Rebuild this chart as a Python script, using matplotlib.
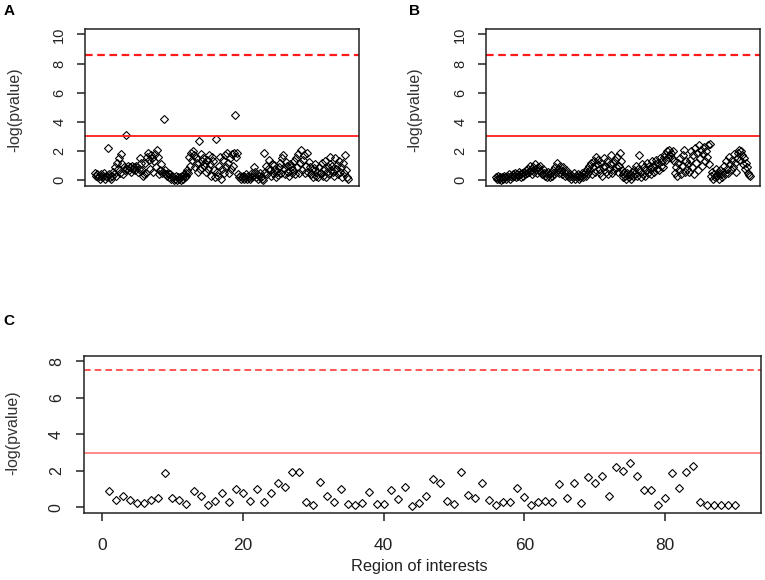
import matplotlib
matplotlib.use("Agg")
import matplotlib.pyplot as plt
import numpy as np

plt.rcParams['font.family'] = ['Liberation Sans', 'DejaVu Sans']
plt.rcParams['lines.scale_dashes'] = False

# ---------------- data ----------------
panel_labels = ["A", "B", "C"]
y_label = "-log(pvalue)"
x_label_c = "Region of interests"

yticks_ab = [0, 2, 4, 6, 8, 10]
yticks_c = [0, 2, 4, 6, 8]
xticks_c = [0, 20, 40, 60, 80]

thr_suggest = 3.0        # solid line
thr_ab = 8.55            # dashed line, panels A and B
thr_c = 7.5              # dashed line, panel C

values_a = [
    0.5, 0.3, 0.4, 0.2, 0.3, 0.1, 0.4, 0.2, 0.3, 0.5, 0.1, 0.3, 0.2, 2.2, 0.4, 0.2, 0.1,
    0.3, 0.6, 0.4, 0.9, 0.3, 1.2, 0.8, 1.5, 0.5, 1.8, 1.1, 0.4, 0.9, 0.7,
    3.1,
    0.8, 1.0, 0.7, 0.9, 0.6, 1.0, 0.8, 0.9, 0.7, 1.0, 0.9, 0.6, 0.8, 1.5, 1.2, 0.7, 0.3, 0.4,
    1.2, 0.5, 1.6, 1.9, 1.4, 0.8, 1.7, 1.5, 0.6, 1.3, 1.8, 0.9, 2.1, 1.6, 0.4, 0.7, 1.1, 0.5, 0.6,
    4.2,
    0.7, 0.4, 0.3, 0.5, 0.2, 0.4, 0.1, 0.3, 0.2, 0.0, 0.1, 0.3, 0.0, 0.2, 0.1, 0.2, 0.0, 0.3,
    0.1, 0.4, 0.2, 0.5, 0.3, 0.7,
    0.5, 1.6, 1.0, 1.9, 1.4, 2.0, 1.7, 0.9, 1.5, 1.2, 0.6, 2.7, 0.8,
    1.8, 1.3, 1.5, 1.0, 1.2, 0.6, 1.4, 0.8, 1.7, 1.1, 0.3, 1.6, 1.3, 0.7, 0.2, 2.85, 0.6, 0.3,
    1.0, 1.6, 0.1, 0.8, 1.4, 0.5, 1.7, 0.9, 1.9, 1.2, 0.5, 1.5, 0.8, 1.8, 1.0, 1.9,
    4.45,
    1.6, 1.85, 0.4, 0.2, 0.3, 0.1, 0.2, 0.3, 0.1, 0.2, 0.4, 0.1, 0.3, 0.2, 0.1, 0.2, 0.5, 0.3,
    0.9, 0.6, 0.2, 0.4, 0.1, 0.3, 0.5, 0.2, 0.1, 0.0,
    1.85,
    0.6, 1.0, 0.4, 0.8, 1.4, 0.7, 0.3, 1.1, 0.5, 1.05,
    0.8, 0.2, 0.6, 0.36, 0.9, 1.2, 0.5, 1.5, 1.73, 0.8,
    0.4, 1.27, 1.0, 0.6, 0.3, 1.1, 0.93, 0.5, 0.7, 1.3,
    0.4, 1.5, 0.9, 1.8, 0.47, 1.2, 2.07, 0.7, 1.4, 1.73,
    0.5, 1.0, 1.9, 0.6, 1.27, 0.9, 0.4, 0.7, 0.2, 0.82,
    1.1, 0.3, 0.6, 0.25, 0.9, 0.5, 0.47, 1.2, 0.3, 0.8,
    1.3, 0.2, 0.6, 0.93, 0.4, 1.1, 1.62, 0.7, 1.0, 0.6,
    0.3, 1.5, 0.8, 1.05, 0.4, 1.3, 0.6, 0.9, 0.2, 1.2,
    0.5, 1.73, 0.7, 0.2, 0.1,
]

values_b = [
    0.2, 0.1, 0.3, 0.1, 0.2, 0.0, 0.2, 0.1, 0.3, 0.2, 0.1, 0.3, 0.2, 0.4, 0.1, 0.3, 0.2, 0.4,
    0.3, 0.5, 0.2, 0.4, 0.3, 0.6, 0.4, 0.2, 0.5, 0.3, 0.6, 0.4, 0.7, 0.5,
    0.8, 0.6, 1.0, 0.7, 0.4, 0.9, 0.6, 1.1, 0.8, 0.5, 0.9, 0.7, 1.0, 0.6, 0.4, 0.8, 0.5,
    0.3, 0.5, 0.2, 0.6, 0.4, 0.2, 0.5, 0.3, 0.7, 0.4,
    0.9, 0.6, 1.2, 0.8, 0.5, 1.0, 0.7, 0.4, 0.9, 0.6, 0.3, 0.7, 0.5,
    0.3, 0.2, 0.4, 0.1, 0.3, 0.2, 0.5, 0.1, 0.3, 0.2, 0.4, 0.1, 0.2, 0.3, 0.5, 0.2, 0.4,
    0.6, 0.3, 0.8, 0.5, 1.0, 0.7, 1.2, 0.4, 0.9, 1.3, 0.6, 1.6, 1.1,
    1.4, 0.8, 0.5, 1.2, 0.3, 0.9, 1.5, 1.0, 0.6, 1.3, 0.4, 0.8, 1.1, 1.7, 0.5, 1.2, 0.7, 1.4,
    0.9, 1.6, 0.6, 1.0, 1.85, 1.3, 0.7,
    0.4, 0.2, 0.6, 0.3, 0.1, 0.5, 0.8, 0.2, 0.4, 0.1, 0.6, 0.3, 0.7,
    0.5, 1.0, 0.3, 0.8, 1.73, 0.6, 0.2, 1.1, 0.4, 0.9, 0.3, 0.7, 1.2, 0.5, 1.0, 0.8, 0.4, 1.3,
    0.9, 0.6, 1.1, 1.4, 0.8, 1.2, 0.7, 1.5, 1.0, 1.3, 0.9, 1.6,
    1.8, 1.4, 2.0, 1.6, 2.1, 1.7, 1.9, 1.5, 2.0, 1.3,
    0.5, 0.9, 0.3, 1.2, 0.7, 1.5, 0.4, 1.0, 1.7, 2.05, 0.6, 1.3, 0.8, 1.1,
    0.6, 1.4, 2.0, 0.9, 1.7, 0.4, 2.2, 1.2, 1.9, 0.7, 2.4, 1.5, 2.1, 1.0, 1.8, 2.3, 1.3, 2.0,
    1.6, 2.4, 1.1,
    2.5,
    0.3, 0.6, 0.1, 0.4, 0.2, 0.8, 0.3, 0.5, 0.1, 0.7, 0.4, 0.2,
    0.6, 1.0, 0.4, 1.3, 0.8, 0.5, 1.6, 1.1, 0.7, 1.4, 0.9, 1.8, 1.2, 0.6, 1.5, 1.9, 2.05, 1.4,
    2.0, 1.7, 1.1, 1.5, 0.8, 1.2, 0.93, 0.5, 0.36, 0.3,
]

values_c = [
    0.91, 0.40, 0.62, 0.40, 0.22, 0.22, 0.40, 0.49, 1.90, 0.49,
    0.40, 0.20, 0.91, 0.62, 0.13, 0.35, 0.80, 0.31, 0.99, 0.77,
    0.35, 0.99, 0.31, 0.80, 1.35, 1.13, 1.95, 1.95, 0.31, 0.13,
    1.41, 0.62, 0.31, 0.99, 0.16, 0.13, 0.22, 0.86, 0.16, 0.16,
    0.95, 0.44, 1.13, 0.07, 0.22, 0.62, 1.53, 1.31, 0.37, 0.18,
    1.95, 0.68, 0.49, 1.35, 0.40, 0.13, 0.31, 0.31, 1.04, 0.55,
    0.13, 0.31, 0.35, 0.31, 1.28, 0.49, 1.35, 0.22, 1.68, 1.35,
    1.72, 0.62, 2.23, 2.00, 2.45, 1.72, 0.95, 0.95, 0.13, 0.49,
    1.86, 1.04, 1.95, 2.26, 0.31, 0.13, 0.13, 0.13, 0.10, 0.13,
]

# ---------------- figure ----------------
W, H = 765, 580
fig = plt.figure(figsize=(W / 100, H / 100), dpi=100)


def px_axes(left, top, right, bottom):
    return fig.add_axes([left / W, 1 - bottom / H, (right - left) / W, (bottom - top) / H])


def r_lim(lo, hi):
    d = (hi - lo) * 0.04
    return lo - d, hi + d


marker_kw = dict(linestyle='none', marker='D', markersize=3.9,
                 markerfacecolor='none', markeredgecolor='black', markeredgewidth=0.8)


def style_axes(ax, tick_fs, pad):
    for s in ax.spines.values():
        s.set_linewidth(1.1)
        s.set_color('#222222')
    ax.tick_params(axis='y', direction='out', length=5.5, width=1.1, pad=pad,
                   labelsize=tick_fs, labelrotation=90, colors='#222222')
    for lab in ax.get_yticklabels():
        lab.set_verticalalignment('center')


# Panel A
axA = px_axes(85, 28.5, 358.5, 186.1)
xa = np.arange(1, len(values_a) + 1)
axA.plot(xa, values_a, **marker_kw)
axA.axhline(thr_ab, color='#ff1a1a', lw=1.6, dashes=(5.5, 3.3))
axA.axhline(thr_suggest, color='#ff1a1a', lw=1.3)
axA.set_xlim(*r_lim(1, len(values_a)))
axA.set_ylim(*r_lim(0, 10))
axA.set_yticks(yticks_ab)
axA.set_xticks([])
style_axes(axA, 10.5, 8)

# Panel B
axB = px_axes(486, 28.5, 760, 186.1)
xb = np.arange(1, len(values_b) + 1)
axB.plot(xb, values_b, **marker_kw)
axB.axhline(thr_ab, color='#ff1a1a', lw=1.6, dashes=(5.5, 3.3))
axB.axhline(thr_suggest, color='#ff1a1a', lw=1.3)
axB.set_xlim(*r_lim(1, len(values_b)))
axB.set_ylim(*r_lim(0, 10))
axB.set_yticks(yticks_ab)
axB.set_xticks([])
style_axes(axB, 10.5, 8)

# Panel C
axC = px_axes(84, 355.5, 760.5, 513.1)
xc = np.arange(1, len(values_c) + 1)
axC.plot(xc, values_c, **marker_kw)
axC.axhline(thr_c, color='#ff5555', lw=1.4, dashes=(4.8, 2.9))
axC.axhline(thr_suggest, color='#ff8a8a', lw=1.4)
axC.set_xlim(*r_lim(1, len(values_c)))
axC.set_ylim(*r_lim(0, 8))
axC.set_yticks(yticks_c)
axC.set_xticks(xticks_c)
style_axes(axC, 11.5, 9)
axC.tick_params(axis='x', direction='out', length=6, width=1.1, pad=12,
                labelsize=12.5, colors='#222222')

# Labels
for (xp, yp) in [(15, 110), (415, 110), (13, 433)]:
    fig.text(xp / W, 1 - yp / H, y_label, rotation=90, ha='center', va='center',
             fontsize=11.5, color='#333333')
fig.text(419 / W, 1 - 566 / H, x_label_c, ha='center', va='center', fontsize=11.8,
         color='#222222')

for lab, (xp, yp) in zip(panel_labels, [(9, 11), (415, 11), (9, 321)]):
    fig.text(xp / W, 1 - yp / H, lab, ha='center', va='center', fontsize=11,
             fontweight='bold')

fig.savefig("out.png", dpi=100)
